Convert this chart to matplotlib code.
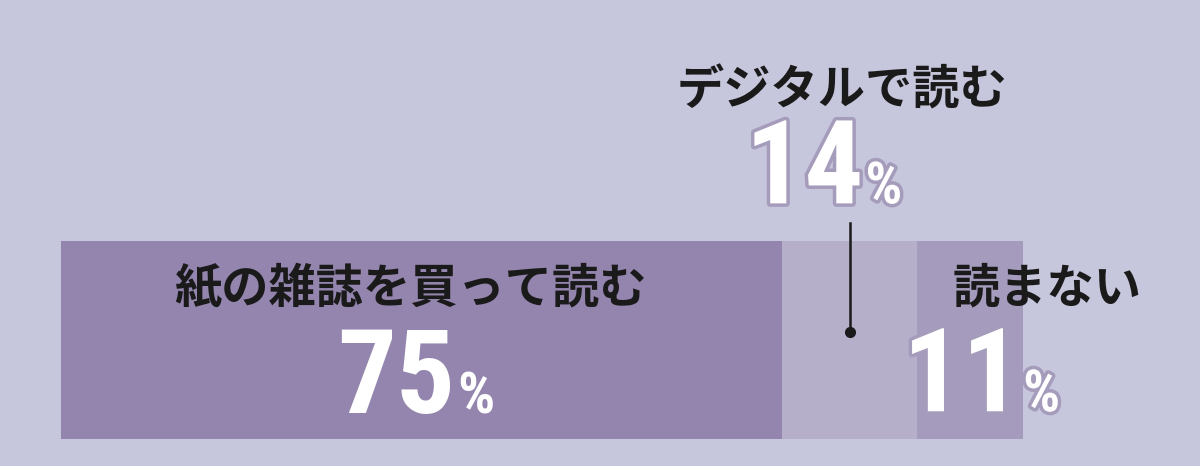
import matplotlib
matplotlib.use('Agg')
import matplotlib.pyplot as plt
import matplotlib.patheffects as pe

# データ
labels = ['紙の雑誌を買って読む', 'デジタルで読む', '読まない']
values = [75, 14, 11]
colors = ['#9485ae', '#b5afc9', '#a59bbc']

bg = '#c6c6dc'
jp_font = 'Noto Sans CJK JP'
num_font = 'Roboto Condensed'

fig = plt.figure(figsize=(12, 4.66), dpi=100)
fig.patch.set_facecolor(bg)
ax = fig.add_axes([61 / 1200, 27 / 466, 962 / 1200, 198 / 466])
ax.set_xlim(0, 100)
ax.set_ylim(0, 1)
ax.axis('off')

left = 0
for v, c in zip(values, colors):
    ax.barh(0.5, v, left=left, height=1, color=c, linewidth=0)
    left += v

outline = [pe.withStroke(linewidth=5, foreground='#a59cbc')]

def num_label(x, y, val, stroke=False):
    eff = outline if stroke else None
    ax.text(x, y, str(val), fontfamily=num_font, fontweight='bold',
            fontsize=84, ha='right', va='baseline', color='white',
            path_effects=eff, clip_on=False)
    ax.text(x + 0.2, y, '%', fontfamily=num_font, fontweight='bold',
            fontsize=42, ha='left', va='baseline', color='white',
            path_effects=eff, clip_on=False)

# 紙の雑誌
ax.text(36.3, 0.76, labels[0], fontfamily=jp_font, fontweight='bold',
        fontsize=34, ha='center', va='center', color='#1a1a1a')
num_label(41.0, 0.13, values[0])

# デジタル
ax.text(81.2, 1.76, labels[1], fontfamily=jp_font, fontweight='bold',
        fontsize=34, ha='center', va='center', color='#1a1a1a', clip_on=False)
num_label(83.4, 1.19, values[1], stroke=True)
ax.plot([82.0, 82.0], [1.09, 0.54], color='#1a1a1a', lw=1.8, clip_on=False)
ax.plot([82.0], [0.54], 'o', color='#1a1a1a', ms=7, clip_on=False)

# 読まない
ax.text(92.7, 0.76, labels[2], fontfamily=jp_font, fontweight='bold',
        fontsize=34, ha='left', va='center', color='#1a1a1a', clip_on=False)
num_label(99.8, 0.14, values[2], stroke=True)

fig.savefig('out.png', dpi=100, facecolor=bg)
